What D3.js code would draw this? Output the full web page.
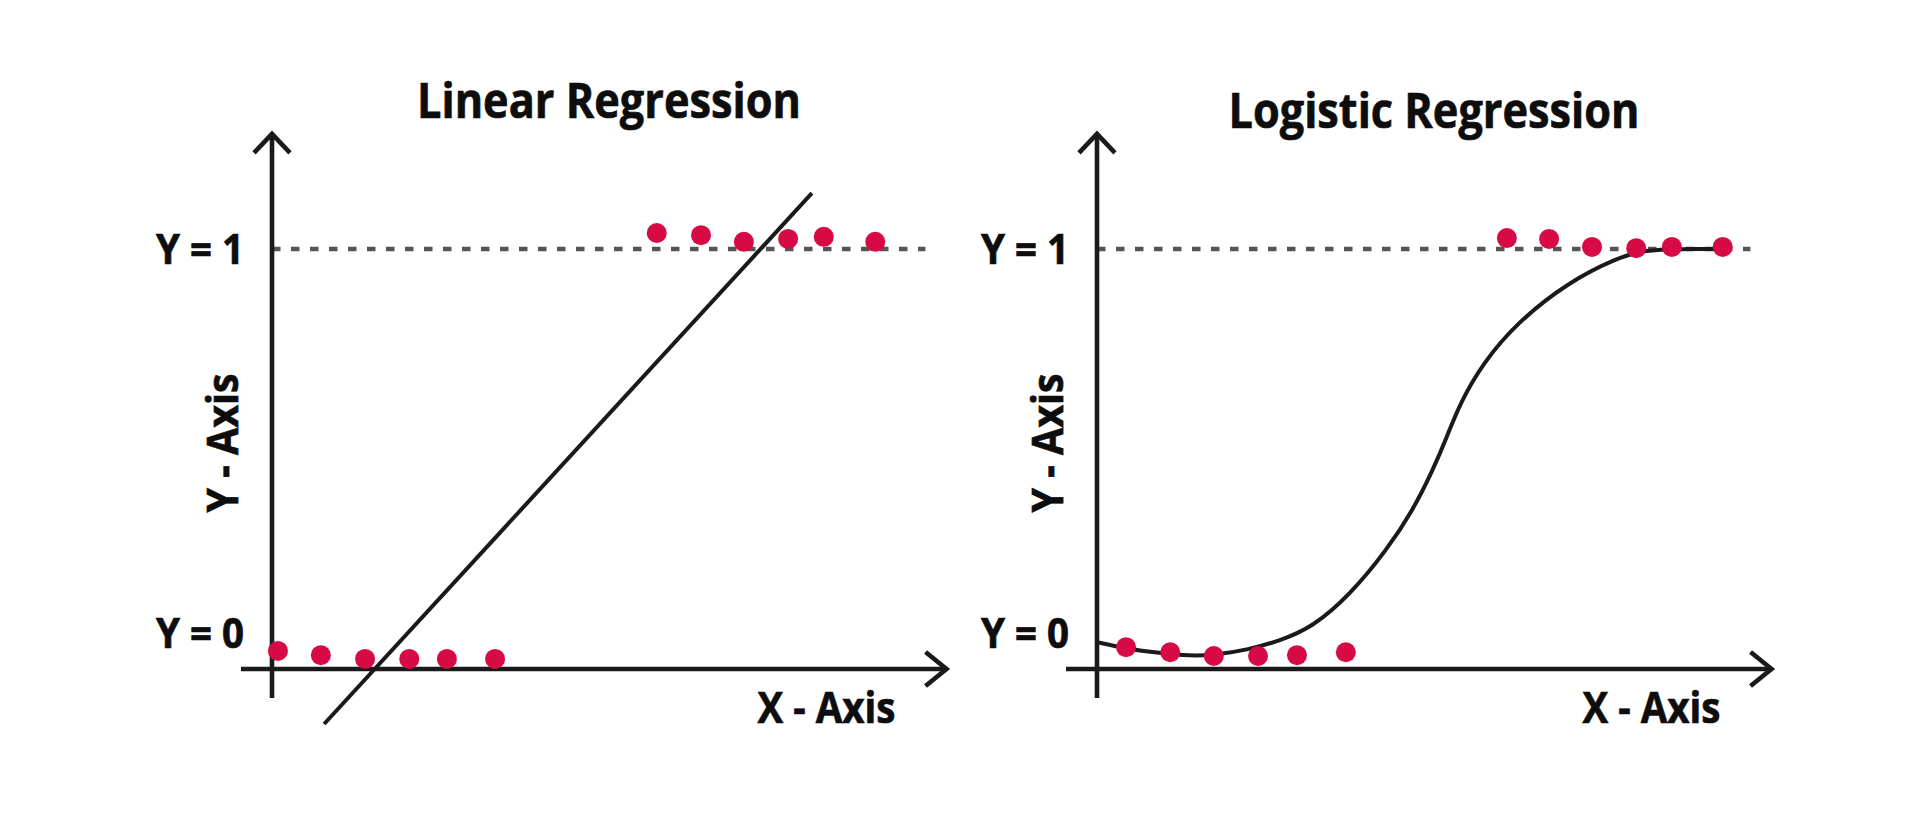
<!DOCTYPE html>
<html>
<head>
<meta charset="utf-8">
<script src="https://cdn.jsdelivr.net/npm/d3@7/dist/d3.min.js"></script>
<style>
  html, body { margin: 0; padding: 0; background: #ffffff; }
  svg { display: block; }
  text { font-family: "Open Sans", "Noto Sans", sans-serif; font-weight: 700; fill: #0d0d0d; stroke: #0d0d0d; stroke-width: 0.7px; }
</style>
</head>
<body>
<svg id="chart" width="1920" height="821"></svg>
<script>
// ---------------- DATA ----------------
const panelTitles = ["Linear Regression", "Logistic Regression"];
const xAxisLabel = "X - Axis";
const yAxisLabel = "Y - Axis";
const yTickLabels = ["Y = 0", "Y = 1"];
const yTickValues = [0.085, 1];

// Linear regression panel
const linLowX  = [0.09, 0.74, 1.41, 2.08, 2.65, 3.38];
const linLowY  = [0.043, 0.033, 0.024, 0.024, 0.024, 0.024];
const linHighX = [5.83, 6.50, 7.15, 7.82, 8.36, 9.14];
const linHighY = [1.038, 1.033, 1.017, 1.024, 1.029, 1.017];
const linFitX  = [0.79, 8.18];
const linFitY  = [-0.131, 1.133];

// Logistic regression panel
const logLowX  = [0.44, 1.11, 1.77, 2.44, 3.03, 3.77];
const logLowY  = [0.052, 0.040, 0.031, 0.031, 0.033, 0.040];
const logHighX = [6.21, 6.85, 7.50, 8.17, 8.71, 9.48];
const logHighY = [1.026, 1.024, 1.005, 1.002, 1.005, 1.005];
const logCurveX = [0.0, 0.45, 0.95, 1.41, 1.77, 2.27, 2.77, 3.27, 3.83, 4.39, 4.79, 5.09, 5.30, 5.50, 5.85, 6.36, 7.12, 7.88, 8.30, 8.83, 9.55];
const logCurveY = [0.064, 0.048, 0.038, 0.031, 0.033, 0.045, 0.067, 0.100, 0.176, 0.283, 0.379, 0.474, 0.552, 0.633, 0.729, 0.824, 0.919, 0.979, 0.998, 1.0, 1.0];

// ---------------- LAYOUT ----------------
const svg = d3.select("#chart");
const panelOrigins = [272, 1097];
const plotW = 660;
const titleBaselines = [118, 128];
const dotColor = "#d80a45";
const inkColor = "#1a1a1a";

const panels = [
  { title: panelTitles[0], low: [linLowX, linLowY], high: [linHighX, linHighY], fit: [linFitX, linFitY], curve: d3.curveLinear },
  { title: panelTitles[1], low: [logLowX, logLowY], high: [logHighX, logHighY], fit: [logCurveX, logCurveY], curve: d3.curveBasis }
];

const y = d3.scaleLinear().domain([0, 1]).range([669, 249]);

panels.forEach((p, i) => {
  const ox = panelOrigins[i];
  const x = d3.scaleLinear().domain([0, 10]).range([ox, ox + plotW]);
  const g = svg.append("g");

  // title
  g.append("text")
    .attr("x", ox + 337).attr("y", titleBaselines[i])
    .attr("text-anchor", "middle")
    .attr("font-size", 49)
    .attr("textLength", i === 0 ? 384 : 411)
    .attr("lengthAdjust", "spacingAndGlyphs")
    .text(p.title);

  // dashed Y = 1 reference line
  g.append("line")
    .attr("x1", x(0)).attr("x2", x(9.9))
    .attr("y1", y(1)).attr("y2", y(1))
    .attr("stroke", "#555555").attr("stroke-width", 4.5)
    .attr("stroke-dasharray", "8.5 10.5");

  // axes
  const xStart = x(-0.47), xTip = x(10.22);
  const yBottom = y(-0.069), yTip = y(1.274);
  g.append("line").attr("x1", xStart).attr("x2", xTip).attr("y1", y(0)).attr("y2", y(0))
    .attr("stroke", inkColor).attr("stroke-width", 4.6);
  g.append("line").attr("x1", x(0)).attr("x2", x(0)).attr("y1", yBottom).attr("y2", yTip)
    .attr("stroke", inkColor).attr("stroke-width", 4.6);
  // arrowheads
  g.append("path")
    .attr("d", `M${xTip - 21},${y(0) - 17} L${xTip},${y(0)} L${xTip - 21},${y(0) + 17}`)
    .attr("fill", "none").attr("stroke", inkColor).attr("stroke-width", 4.6).attr("stroke-linejoin", "miter");
  g.append("path")
    .attr("d", `M${x(0) - 18},${yTip + 19} L${x(0)},${yTip} L${x(0) + 18},${yTip + 19}`)
    .attr("fill", "none").attr("stroke", inkColor).attr("stroke-width", 4.6).attr("stroke-linejoin", "miter");

  // tick labels
  yTickLabels.forEach((lab, k) => {
    g.append("text")
      .attr("x", x(0) - 28).attr("y", y(yTickValues[k]) + 15)
      .attr("text-anchor", "end")
      .attr("font-size", 41)
      .attr("textLength", 88)
      .attr("lengthAdjust", "spacingAndGlyphs")
      .text(lab);
  });

  // axis titles
  g.append("text")
    .attr("x", xTip - 51).attr("y", 723)
    .attr("text-anchor", "end")
    .attr("font-size", 43)
    .attr("textLength", 138)
    .attr("lengthAdjust", "spacingAndGlyphs")
    .text(xAxisLabel);
  g.append("text")
    .attr("transform", `translate(${x(0) - 34},${443}) rotate(-90)`)
    .attr("text-anchor", "middle")
    .attr("font-size", 43)
    .attr("textLength", 139)
    .attr("lengthAdjust", "spacingAndGlyphs")
    .text(yAxisLabel);

  // fit line / curve
  const fitPts = p.fit[0].map((v, k) => [v, p.fit[1][k]]);
  g.append("path")
    .datum(fitPts)
    .attr("d", d3.line().x(d => x(d[0])).y(d => y(d[1])).curve(p.curve))
    .attr("fill", "none").attr("stroke", inkColor).attr("stroke-width", 4);

  // dots
  const pts = p.low[0].map((v, k) => [v, p.low[1][k]])
    .concat(p.high[0].map((v, k) => [v, p.high[1][k]]));
  g.selectAll("circle").data(pts).join("circle")
    .attr("cx", d => x(d[0])).attr("cy", d => y(d[1]))
    .attr("r", 10).attr("fill", dotColor);
});
</script>
</body>
</html>
